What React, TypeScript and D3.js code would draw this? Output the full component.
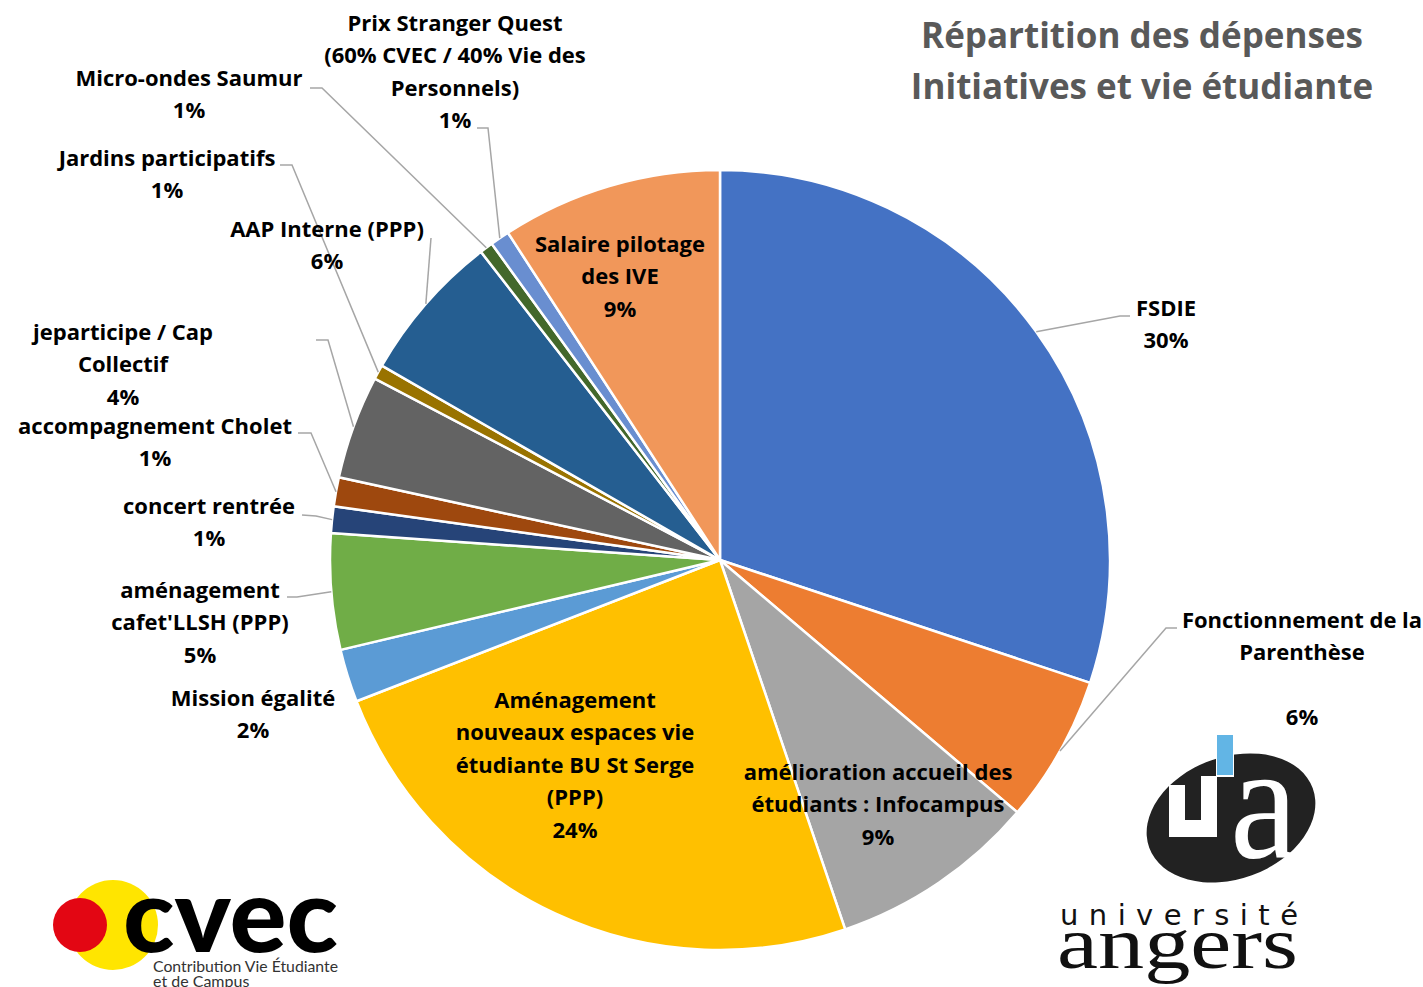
import React from "react";
import * as d3 from "d3";

// ---------- DATA ----------
const categories = [
  "FSDIE",
  "Fonctionnement de la Parenthèse",
  "amélioration accueil des étudiants : Infocampus",
  "Aménagement nouveaux espaces vie étudiante BU St Serge (PPP)",
  "Mission égalité",
  "aménagement cafet'LLSH (PPP)",
  "concert rentrée",
  "accompagnement Cholet",
  "jeparticipe / Cap Collectif",
  "Jardins participatifs",
  "AAP Interne (PPP)",
  "Micro-ondes Saumur",
  "Prix Stranger Quest (60% CVEC / 40% Vie des Personnels)",
  "Salaire pilotage des IVE",
];

const values = [30.1, 6.1, 8.6, 24.3, 2.2, 4.8, 1.1, 1.2, 4.3, 0.6, 6.2, 0.55, 0.8, 9.15];

const colors = [
  "#4472C4", "#ED7D31", "#A5A5A5", "#FFC000", "#5B9BD5", "#70AD47", "#264478",
  "#9E480E", "#636363", "#997300", "#255E91", "#43682B", "#698ED0", "#F1975A",
];

// label text as wrapped in the chart
const labelLines: string[][] = [
  ["FSDIE"],
  ["Fonctionnement de la", "Parenthèse", ""],
  ["amélioration accueil des", "étudiants : Infocampus"],
  ["Aménagement", "nouveaux espaces vie", "étudiante BU St Serge", "(PPP)"],
  ["Mission égalité"],
  ["aménagement", "cafet'LLSH (PPP)"],
  ["concert rentrée"],
  ["accompagnement Cholet"],
  ["jeparticipe / Cap", "Collectif"],
  ["Jardins participatifs"],
  ["AAP Interne (PPP)"],
  ["Micro-ondes Saumur"],
  ["Prix Stranger Quest", "(60% CVEC / 40% Vie des", "Personnels)"],
  ["Salaire pilotage", "des IVE"],
];

const titleLines = ["Répartition des dépenses", "Initiatives et vie étudiante"];

// ---------- LAYOUT ----------
const labelAnchors: [number, number][] = [
  [1166, 308], [1302, 620], [878, 772], [575, 700], [253, 698], [200, 590],
  [209, 506], [155, 426], [123, 332], [167, 158], [327, 229], [189, 78],
  [455, 23], [620, 244],
];

const leaderBends: ([number, number][] | null)[] = [
  [[1130, 316], [1120, 316]],
  [[1177, 628], [1166, 628]],
  null,
  null,
  null,
  [[287, 597], [297, 597]],
  [[302, 515], [316, 516]],
  [[298, 433], [311, 433]],
  [[316, 340], [328, 340]],
  [[280, 165], [292, 165]],
  [[431, 238]],
  [[310, 88], [322, 88]],
  [[477, 128], [488, 128]],
  null,
];

const W = 1423;
const H = 987;
const CX = 720;
const CY = 560;
const R = 390;
const LINE_H = 32.5;
const FS = 22;
const FONT = "'Open Sans', sans-serif";

export default function App() {
  const total = d3.sum(values);
  const pct = d3.format(".0%");
  const arcs = d3
    .pie<number>()
    .sort(null)
    .value((d) => d)(values);
  const arc = d3.arc<d3.PieArcDatum<number>>().innerRadius(0).outerRadius(R);
  const edge = d3.arc<d3.PieArcDatum<number>>().innerRadius(R).outerRadius(R);
  const line = d3.line();

  return (
    <div style={{ position: "fixed", left: 0, top: 0, width: W, height: H, overflow: "hidden", background: "#fff" }}>
      <svg width={W} height={H} style={{ display: "block" }}>
        {/* title */}
        <g fontFamily={FONT} fontWeight={700} fontSize={35} fill="#595959" textAnchor="middle">
          {titleLines.map((t, i) => (
            <text key={i} x={1142} y={35 + i * 51 + 12.5}>
              {t}
            </text>
          ))}
        </g>

        {/* pie */}
        <g transform={`translate(${CX},${CY})`}>
          {arcs.map((a, i) => (
            <path key={categories[i]} d={arc(a) || ""} fill={colors[i]} stroke="#fff" strokeWidth={2.5} strokeLinejoin="round" />
          ))}
        </g>

        {/* leader lines */}
        <g fill="none" stroke="#A6A6A6" strokeWidth={1.5}>
          {arcs.map((a, i) => {
            const bends = leaderBends[i];
            if (!bends) return null;
            const [ex, ey] = edge.centroid(a);
            const pts: [number, number][] = [...bends, [CX + ex, CY + ey]];
            return <path key={i} d={line(pts) || ""} />;
          })}
        </g>

        {/* labels */}
        <g fontFamily={FONT} fontWeight={700} fontSize={FS} fill="#000" textAnchor="middle">
          {arcs.map((a, i) => {
            const [lx, ly] = labelAnchors[i];
            const lines = [...labelLines[i], pct(values[i] / total)];
            return (
              <text key={i}>
                {lines.map((t, j) => (
                  <tspan key={j} x={lx} y={ly + j * LINE_H + FS * 0.36}>
                    {t}
                  </tspan>
                ))}
              </text>
            );
          })}
        </g>

        {/* CVEC logo */}
        <g>
          <circle cx={113} cy={925} r={45} fill="#FFE500" />
          <circle cx={80} cy={925} r={27} fill="#E30613" />
          <text x={123} y={952} fontFamily="Lato, sans-serif" fontWeight={900} fontSize={102} fill="#000" textLength={215} lengthAdjust="spacingAndGlyphs">
            cvec
          </text>
          <text x={153} y={972} fontFamily="Lato, sans-serif" fontSize={16} fill="#333" textLength={185} lengthAdjust="spacingAndGlyphs">
            Contribution Vie Étudiante
          </text>
          <text x={153} y={987} fontFamily="Lato, sans-serif" fontSize={16} fill="#333">
            et de Campus
          </text>
        </g>

        {/* Université d'Angers logo */}
        <g>
          <ellipse cx={1231} cy={818} rx={87} ry={61} transform="rotate(-20 1231 818)" fill="#222" />
          <path d="M1169,785 H1185 V820 H1201 V776 H1217 V837 H1169 Z" fill="#fff" />
          <rect x={1216} y={734} width={18} height={43} fill="#fff" />
          <rect x={1217} y={735} width={16} height={40} fill="#62B5E5" />
          <text x={1230} y={857} fontFamily="'Liberation Serif', serif" fontSize={165} fill="#fff" textLength={68} lengthAdjust="spacingAndGlyphs">
            a
          </text>
          <text x={1060} y={925} fontFamily="'DejaVu Sans', sans-serif" fontSize={29} fill="#111" textLength={238} lengthAdjust="spacing">
            université
          </text>
          <text x={1057} y={968} fontFamily="'Liberation Serif', serif" fontSize={74} fill="#111" textLength={241} lengthAdjust="spacingAndGlyphs">
            angers
          </text>
        </g>
      </svg>
    </div>
  );
}
